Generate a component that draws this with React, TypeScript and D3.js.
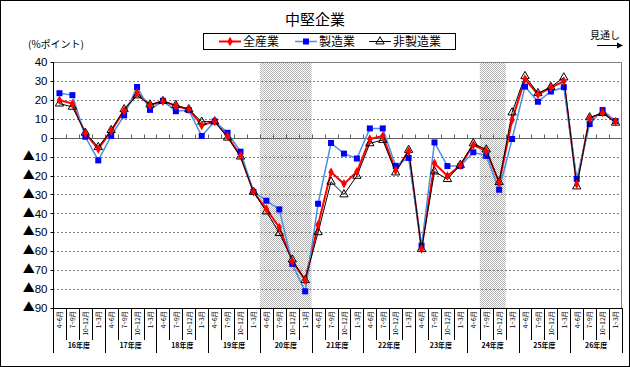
import {useEffect, useRef} from "react";
import * as d3 from "d3";

// quarters per fiscal year, Heisei years
const quarters = ["4~6月", "7~9月", "10~12月", "1~3月"];
const years = ["16年度", "17年度", "18年度", "19年度", "20年度", "21年度", "22年度", "23年度", "24年度", "25年度", "26年度"];
const yTicks = [40, 30, 20, 10, 0, -10, -20, -30, -40, -50, -60, -70, -80, -90];

const zensangyo = [19.8, 18, 2.3, -6, 3.7, 14.2, 23.7, 17.2, 19.3, 16.7, 15, 6.5, 8.6, 0.9, -9.6, -28.6, -37.7, -47.4, -65.3, -75.3, -46, -18.2, -24.4, -18, -0.7, 0.9, -17.4, -7.2, -58.8, -13.5, -20.2, -14.6, -3.9, -7, -23.7, 9.3, 31, 22.8, 26.5, 29.8, -24.6, 10.2, 13.3, 8.4];
const seizogyo = [23.5, 22.5, 0.5, -12, 1, 11.8, 26.8, 14.7, 19.5, 14, 14.6, 0.9, 8.6, 2.6, -7.4, -28.6, -33.3, -37.9, -66.7, -81.2, -34.9, -2.8, -8.4, -11, 4.9, 4.9, -14.9, -10.7, -57, -2.5, -15, -15, -7.7, -9.6, -27.5, -0.7, 27, 19, 24.4, 26.7, -21.8, 7.2, 14.6, 8.8];
const hiseizogyo = [18, 16.3, 2.6, -5, 4, 15, 22.3, 17.5, 19.3, 17.2, 15, 8.4, 8.6, 0, -10, -28.6, -39, -50.4, -64.4, -75.3, -50, -23.3, -30, -20.2, -3, -1.2, -18.4, -6.5, -58.8, -17.9, -21.9, -14.4, -3, -6.3, -23.5, 13.3, 32.5, 23.5, 26.8, 31.8, -25.8, 10.7, 13, 7.9];
// shaded (recession) quarters
const shaded = [[16, 19], [33, 34]];

const JP = "'Noto Sans CJK JP', 'Liberation Sans', sans-serif";
const NUM = "'Liberation Sans', Arial, sans-serif";

const App = () => {
    const ref = useRef<SVGSVGElement>(null);

    useEffect(() => {
        const svg = d3.select(ref.current);
        svg.selectAll("*").remove();
        const W = 630, H = 367;
        const left = 53, right = 622, top = 62, bottom = 308;

        const cats = d3.range(years.length * 4);
        const x = d3.scaleBand<number>().domain(cats).range([left, right]);
        const y = d3.scaleLinear().domain([-90, 40]).range([bottom, top]);

        svg.append("rect").attr("x", 0.5).attr("y", 0.5).attr("width", W - 1).attr("height", H - 1)
            .attr("fill", "#fff").attr("stroke", "#000");

        const defs = svg.append("defs");
        const pat = defs.append("pattern").attr("id", "dots").attr("width", 2).attr("height", 2)
            .attr("patternUnits", "userSpaceOnUse");
        pat.append("rect").attr("width", 2).attr("height", 2).attr("fill", "#fff");
        pat.append("rect").attr("width", 1).attr("height", 1).attr("fill", "#b4b4b4");
        pat.append("rect").attr("x", 1).attr("y", 1).attr("width", 1).attr("height", 1).attr("fill", "#b4b4b4");

        shaded.forEach(([a, b]) => {
            svg.append("rect").attr("x", x(a)!).attr("y", top)
                .attr("width", x(b)! + x.bandwidth() - x(a)!).attr("height", bottom - top)
                .attr("fill", "url(#dots)");
        });

        // gridlines
        svg.append("g").selectAll("line").data(yTicks.filter(d => d !== 0 && d !== 40)).enter().append("line")
            .attr("x1", left).attr("x2", right)
            .attr("y1", d => Math.round(y(d)) + 0.5).attr("y2", d => Math.round(y(d)) + 0.5)
            .attr("stroke", "#808080").attr("stroke-dasharray", "2,2");

        // plot border top/right
        svg.append("path")
            .attr("d", `M${left},${top + 0.5}H${right - 0.5}V${bottom}`)
            .attr("fill", "none").attr("stroke", "#808080");

        // zero line with ticks
        const y0 = Math.round(y(0)) + 0.5;
        svg.append("line").attr("x1", left).attr("x2", right).attr("y1", y0).attr("y2", y0)
            .attr("stroke", "#606060");
        svg.append("g").selectAll("line").data(cats.slice(1)).enter().append("line")
            .attr("x1", d => Math.round(x(d)!) + 0.5).attr("x2", d => Math.round(x(d)!) + 0.5)
            .attr("y1", y0 - 4).attr("y2", y0).attr("stroke", "#606060");

        // y axis
        const yAxis = svg.append("g").attr("transform", `translate(${left + 0.5},0)`);
        yAxis.append("line").attr("y1", top).attr("y2", bottom).attr("stroke", "#000");
        yAxis.selectAll(".tk").data(yTicks).enter().append("line")
            .attr("x1", -3).attr("x2", 0)
            .attr("y1", d => Math.round(y(d)) + 0.5).attr("y2", d => Math.round(y(d)) + 0.5)
            .attr("stroke", "#000");
        const yl = yAxis.selectAll(".lb").data(yTicks).enter().append("text")
            .attr("x", -6).attr("y", d => y(d)).attr("dy", "0.36em")
            .attr("text-anchor", "end").attr("font-family", NUM).attr("font-size", 11.5);
        yl.filter(d => d < 0).append("tspan").attr("font-family", JP).attr("font-size", 12).text("▲");
        yl.append("tspan").text(d => String(Math.abs(d)));

        // category axis boxes
        const xa = svg.append("g");
        xa.append("line").attr("x1", left).attr("x2", right).attr("y1", bottom + 0.5).attr("y2", bottom + 0.5)
            .attr("stroke", "#000");
        xa.selectAll(".sep").data(d3.range(cats.length + 1)).enter().append("line")
            .attr("x1", d => Math.round(left + d * x.bandwidth()) + 0.5)
            .attr("x2", d => Math.round(left + d * x.bandwidth()) + 0.5)
            .attr("y1", bottom).attr("y2", d => d % 4 === 0 ? 353 : 340)
            .attr("stroke", "#000");
        xa.selectAll(".q").data(cats).enter().append("text")
            .attr("transform", d => `translate(${x(d)! + x.bandwidth() / 2 + 0.5},${bottom + 3}) rotate(-90)`)
            .attr("text-anchor", "end").attr("dy", "0.35em")
            .attr("font-family", JP).attr("font-size", 6.5)
            .text(d => quarters[d % 4]);
        xa.selectAll(".yr").data(years).enter().append("text")
            .attr("x", (d, i) => left + (i * 4 + 2) * x.bandwidth())
            .attr("y", 348).attr("text-anchor", "middle")
            .attr("font-family", JP).attr("font-size", 7).attr("font-weight", "bold")
            .text(d => d);

        const line = d3.line<number>().x((d, i) => x(i)! + x.bandwidth() / 2).y(d => y(d));

        // 全産業
        svg.append("path").datum(zensangyo).attr("d", line).attr("fill", "none")
            .attr("stroke", "#ff0000").attr("stroke-width", 2);
        // 製造業
        svg.append("path").datum(seizogyo).attr("d", line).attr("fill", "none")
            .attr("stroke", "#4a90e2").attr("stroke-width", 1.5);
        svg.append("g").selectAll("rect").data(seizogyo).enter().append("rect")
            .attr("x", (d, i) => x(i)! + x.bandwidth() / 2 - 3).attr("y", d => y(d) - 3)
            .attr("width", 6).attr("height", 6).attr("fill", "#0000ff");
        // 非製造業
        svg.append("path").datum(hiseizogyo).attr("d", line).attr("fill", "none")
            .attr("stroke", "#000").attr("stroke-width", 1);
        const tri = d3.symbol(d3.symbolTriangle, 30);
        svg.append("g").selectAll("path").data(hiseizogyo).enter().append("path")
            .attr("d", tri)
            .attr("transform", (d, i) => `translate(${x(i)! + x.bandwidth() / 2},${y(d)})`)
            .attr("fill", "none").attr("stroke", "#000").attr("stroke-width", 1);
        const star = d3.symbol(d3.symbolDiamond, 26);
        svg.append("g").selectAll("path").data(zensangyo).enter().append("path")
            .attr("d", star)
            .attr("transform", (d, i) => `translate(${x(i)! + x.bandwidth() / 2},${y(d)})`)
            .attr("fill", "#ff0000");

        // title
        svg.append("text").attr("x", 315).attr("y", 25).attr("text-anchor", "middle")
            .attr("font-family", JP).attr("font-size", 15).text("中堅企業");
        svg.append("text").attr("x", 28).attr("y", 48)
            .attr("font-family", JP).attr("font-size", 10).text("(%ポイント)");

        // legend
        const lg = svg.append("g");
        lg.append("rect").attr("x", 203.5).attr("y", 33.5).attr("width", 252).attr("height", 16)
            .attr("fill", "#fff").attr("stroke", "#000");
        const items = [
            {name: "全産業", x: 219, color: "#ff0000", w: 2},
            {name: "製造業", x: 295, color: "#4a90e2", w: 1.5},
            {name: "非製造業", x: 369, color: "#000", w: 1},
        ];
        items.forEach((it, k) => {
            lg.append("line").attr("x1", it.x).attr("x2", it.x + 22).attr("y1", 41.5).attr("y2", 41.5)
                .attr("stroke", it.color).attr("stroke-width", it.w);
            const cx = it.x + 11;
            if (k === 0) lg.append("path").attr("d", star).attr("transform", `translate(${cx},41.5)`).attr("fill", "#ff0000");
            if (k === 1) lg.append("rect").attr("x", cx - 3).attr("y", 38.5).attr("width", 6).attr("height", 6).attr("fill", "#0000ff");
            if (k === 2) lg.append("path").attr("d", tri).attr("transform", `translate(${cx},41.5)`).attr("fill", "none").attr("stroke", "#000");
            lg.append("text").attr("x", it.x + 24).attr("y", 46).attr("font-family", JP).attr("font-size", 12)
                .text(it.name);
        });

        // 見通し arrow
        svg.append("text").attr("x", 590).attr("y", 39).attr("font-family", JP).attr("font-size", 10).text("見通し");
        svg.append("line").attr("x1", 597).attr("x2", 618).attr("y1", 45.5).attr("y2", 45.5).attr("stroke", "#000");
        svg.append("path").attr("d", "M623,45.5L617,42.5L617,48.5Z").attr("fill", "#000");
    }, []);

    return (
        <div style={{position: "absolute", left: 0, top: 0}}>
            <svg ref={ref} width={630} height={367} style={{display: "block"}}/>
        </div>
    );
};

export default App;
